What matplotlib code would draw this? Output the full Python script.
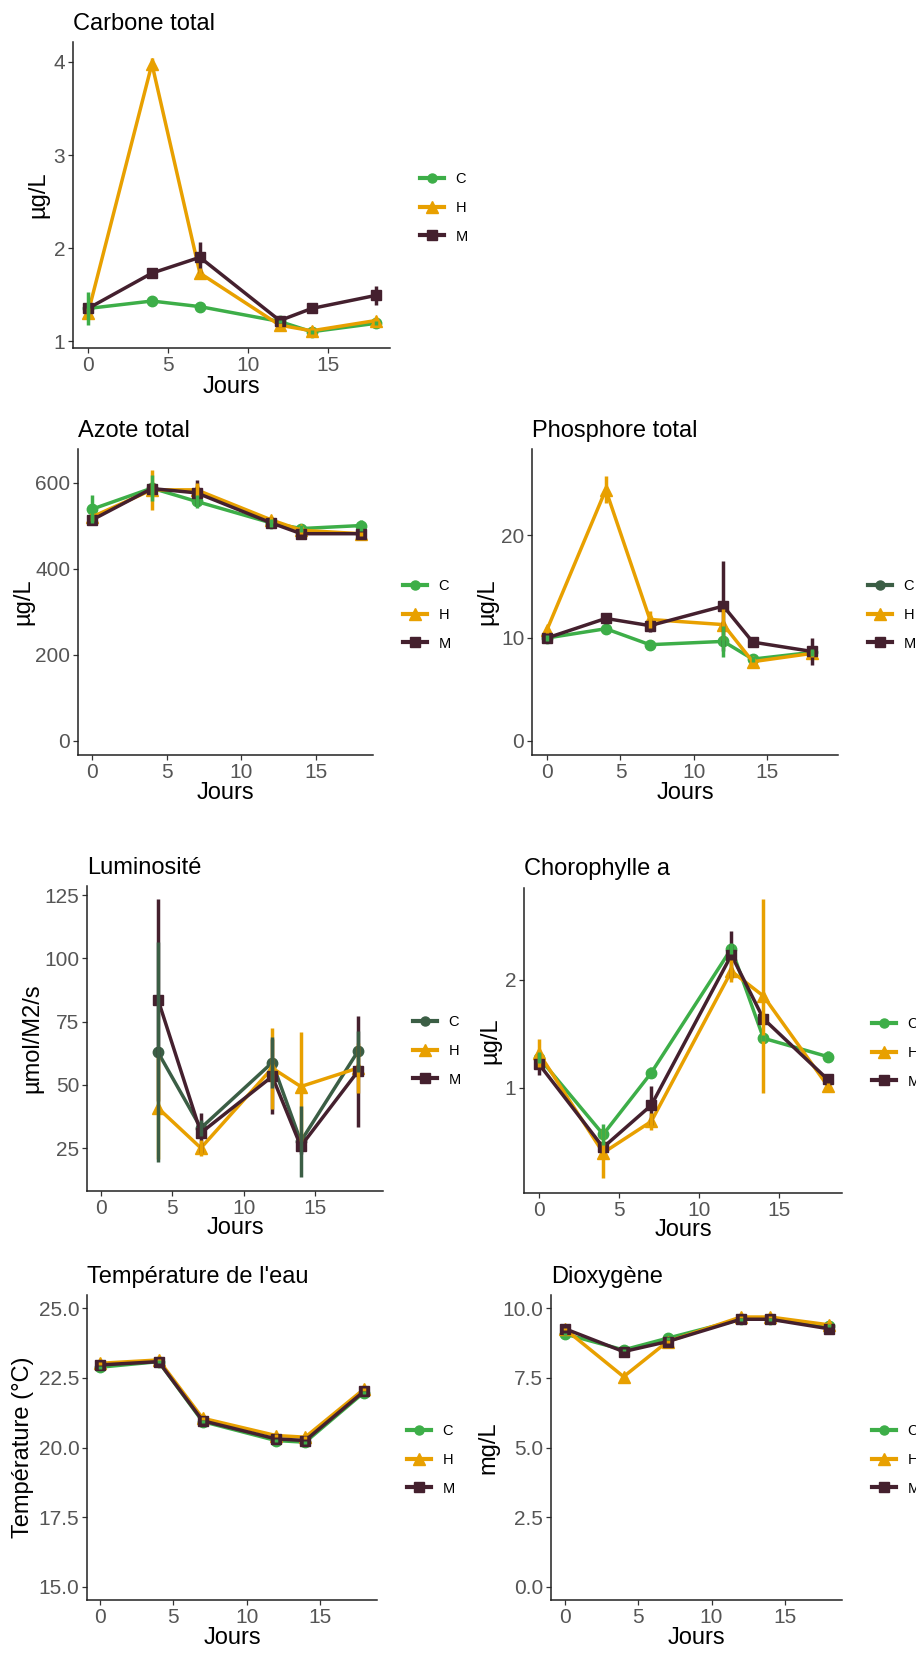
import matplotlib
matplotlib.use("Agg")
import matplotlib.pyplot as plt
from matplotlib.lines import Line2D

plt.rcParams['font.family'] = ['Liberation Sans', 'DejaVu Sans']

W, H = 916, 1654

# ---- data ----
jours = [0, 4, 7, 12, 14, 18]
jours_lum = [4, 7, 12, 14, 18]
groupes = ['C', 'H', 'M']

carbone_C = [1.35, 1.43, 1.37, 1.21, 1.10, 1.19]
carbone_H = [1.30, 3.98, 1.73, 1.17, 1.11, 1.22]
carbone_M = [1.35, 1.73, 1.90, 1.22, 1.35, 1.49]
carbone_C_err = [0.18, 0.02, 0.02, 0.02, 0.02, 0.02]
carbone_H_err = [0.05, 0.06, 0.06, 0.02, 0.02, 0.03]
carbone_M_err = [0.04, 0.03, 0.17, 0.05, 0.02, 0.10]

azote_C = [539, 588, 557, 507, 494, 501]
azote_H = [521, 584, 584, 514, 490, 482]
azote_M = [514, 587, 577, 507, 482, 482]
azote_C_err = [33, 30, 15, 10, 8, 12]
azote_H_err = [10, 47, 15, 8, 8, 5]
azote_M_err = [8, 15, 30, 10, 5, 5]

phos_C = [10.0, 10.9, 9.35, 9.67, 7.95, 8.6]
phos_H = [10.8, 24.4, 11.8, 11.3, 7.7, 8.5]
phos_M = [10.0, 11.9, 11.2, 13.1, 9.6, 8.7]
phos_C_err = [0.3, 0.5, 0.2, 1.5, 0.3, 0.3]
phos_H_err = [0.3, 1.3, 0.8, 1.5, 0.3, 0.3]
phos_M_err = [0.3, 0.5, 0.6, 4.4, 0.2, 1.3]

lum_C = [62.8, 32.9, 58.8, 27.6, 63.2]
lum_H = [40.8, 25.0, 56.6, 49.3, 56.6]
lum_M = [83.6, 31.0, 53.3, 25.7, 55.3]
lum_C_err = [43.5, 3, 10, 14, 8]
lum_H_err = [20, 3, 16, 21.5, 10]
lum_M_err = [40, 8, 15, 3, 22]

chl_C = [1.28, 0.57, 1.14, 2.29, 1.46, 1.29]
chl_H = [1.32, 0.40, 0.69, 2.08, 1.85, 1.02]
chl_M = [1.22, 0.45, 0.84, 2.23, 1.64, 1.08]
chl_C_err = [0.05, 0.10, 0.05, 0.05, 0.03, 0.05]
chl_H_err = [0.13, 0.23, 0.08, 0.10, 0.90, 0.03]
chl_M_err = [0.10, 0.05, 0.18, 0.22, 0.05, 0.05]

temp_C = [22.88, 23.08, 20.93, 20.25, 20.19, 21.97]
temp_H = [23.02, 23.14, 21.05, 20.43, 20.37, 22.09]
temp_M = [22.96, 23.08, 20.96, 20.31, 20.25, 22.01]
temp_err = [0.05, 0.05, 0.05, 0.05, 0.05, 0.05]

o2_C = [9.07, 8.50, 8.92, 9.60, 9.60, 9.37]
o2_H = [9.25, 7.54, 8.80, 9.68, 9.68, 9.40]
o2_M = [9.26, 8.44, 8.80, 9.60, 9.60, 9.26]
o2_err = [0.05, 0.05, 0.05, 0.05, 0.05, 0.05]

VERT = '#3DAE48'
VERT_FONCE = '#3B5E45'
ORANGE = '#E8A000'
BORDEAUX = '#44202E'
MARKERS = {'C': 'o', 'H': '^', 'M': 's'}
MSIZE = {'C': 7.5, 'H': 9, 'M': 7.5}

fig = plt.figure(figsize=(W / 100, H / 100), dpi=100)


def panel(box, x, series, titre, ylab, xlim, ylim, yticks, yfmt, lab_x, jours_y,
          leg_y, leg_x, leg_colors):
    x0, ytop, x1, ybot = box
    ax = fig.add_axes([x0 / W, 1 - ybot / H, (x1 - x0) / W, (ybot - ytop) / H])
    # lines + points first, then error bars on top (last group underneath)
    for g, (vals, errs, col) in zip(groupes, series):
        ax.plot(x, vals, color=col, lw=2.5, marker=MARKERS[g], ms=MSIZE[g],
                mec=col, mfc=col, zorder=2)
    for g, (vals, errs, col) in reversed(list(zip(groupes, series))):
        ax.errorbar(x, vals, yerr=errs, fmt='none', ecolor=col, elinewidth=2.5,
                    capsize=0, zorder=3)
    ax.set_xlim(*xlim)
    ax.set_ylim(*ylim)
    ax.set_xticks([0, 5, 10, 15])
    ax.set_yticks(yticks)
    if yfmt:
        ax.set_yticklabels([yfmt % t for t in yticks])
    for s in ['top', 'right']:
        ax.spines[s].set_visible(False)
    for s in ['left', 'bottom']:
        ax.spines[s].set_linewidth(1.1)
        ax.spines[s].set_color('#222222')
    ax.tick_params(length=3.5, width=0.9, color='#333333', labelcolor='#555555',
                   labelsize=15, pad=2)
    ax.set_title(titre, loc='left', fontsize=17, pad=9, color='black')
    ax.set_xlabel('Jours', fontsize=17)
    ax.xaxis.set_label_coords((x0 + x1) / 2 / W, 1 - jours_y / H,
                              transform=fig.transFigure)
    ax.xaxis.label.set_va('center')
    ax.set_ylabel(ylab, fontsize=17)
    ax.yaxis.set_label_coords(lab_x / W, 1 - (ytop + ybot) / 2 / H,
                              transform=fig.transFigure)
    ax.yaxis.label.set_va('center')
    handles = [Line2D([], [], color=c, lw=3, marker=MARKERS[g], ms=MSIZE[g] - 1)
               for g, c in zip(groupes, leg_colors)]
    ax.legend(handles, groupes, loc='center left', frameon=False,
              bbox_to_anchor=(leg_x / W, 1 - leg_y / H), bbox_transform=fig.transFigure,
              borderaxespad=0, borderpad=0, handlelength=1.65, handletextpad=0.8,
              labelspacing=1.0, fontsize=10.5)
    return ax


std = [VERT, ORANGE, BORDEAUX]

panel((73, 42, 390, 348), jours,
      [(carbone_C, carbone_C_err, VERT), (carbone_H, carbone_H_err, ORANGE),
       (carbone_M, carbone_M_err, BORDEAUX)],
      'Carbone total', 'µg/L', (-0.94, 18.9), (0.925, 4.215), [1, 2, 3, 4], None,
      38, 387, 208, 420, std)

panel((78, 449, 373, 755), jours,
      [(azote_C, azote_C_err, VERT), (azote_H, azote_H_err, ORANGE),
       (azote_M, azote_M_err, BORDEAUX)],
      'Azote total', 'µg/L', (-0.94, 18.8), (-32.6, 679), [0, 200, 400, 600], None,
      23, 793, 615, 403, std)

panel((532, 449, 838, 755), jours,
      [(phos_C, phos_C_err, VERT), (phos_H, phos_H_err, ORANGE),
       (phos_M, phos_M_err, BORDEAUX)],
      'Phosphore total', 'µg/L', (-1.02, 19.8), (-1.36, 28.35), [0, 10, 20], None,
      487, 793, 615, 868, [VERT_FONCE, ORANGE, BORDEAUX])

panel((87, 886, 383, 1191), jours_lum,
      [(lum_C, lum_C_err, VERT_FONCE), (lum_H, lum_H_err, ORANGE),
       (lum_M, lum_M_err, BORDEAUX)],
      'Luminosité', 'µmol/M2/s', (-0.98, 19.76), (8.0, 128.6), [25, 50, 75, 100, 125], None,
      32, 1228, 1051, 413, [VERT_FONCE, ORANGE, BORDEAUX])

panel((524, 888, 842, 1193), jours,
      [(chl_C, chl_C_err, VERT), (chl_H, chl_H_err, ORANGE),
       (chl_M, chl_M_err, BORDEAUX)],
      'Chorophylle a', 'µg/L', (-0.94, 18.9), (0.028, 2.85), [1, 2], None,
      490, 1230, 1053, 872, std)

panel((87, 1295, 377, 1600), jours,
      [(temp_C, temp_err, VERT), (temp_H, temp_err, ORANGE),
       (temp_M, temp_err, BORDEAUX)],
      "Température de l'eau", 'Température (°C)', (-0.89, 18.9), (14.53, 25.47),
      [15.0, 17.5, 20.0, 22.5, 25.0], '%.1f',
      23, 1638, 1460, 407, std)

panel((551, 1295, 842, 1600), jours,
      [(o2_C, o2_err, VERT), (o2_H, o2_err, ORANGE),
       (o2_M, o2_err, BORDEAUX)],
      'Dioxygène', 'mg/L', (-0.95, 18.9), (-0.47, 10.47),
      [0.0, 2.5, 5.0, 7.5, 10.0], '%.1f',
      488, 1638, 1460, 872, std)

fig.savefig('out.png', dpi=100)
